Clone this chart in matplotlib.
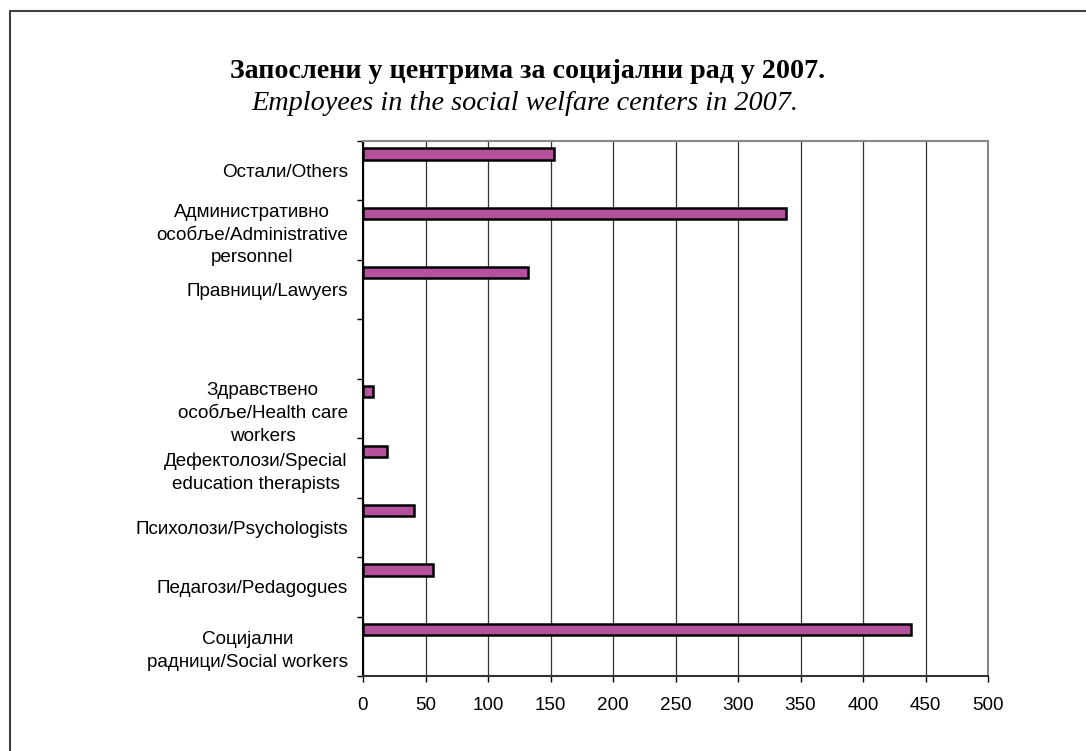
import matplotlib
matplotlib.use("Agg")
import matplotlib.pyplot as plt
from matplotlib.patches import Rectangle
import numpy as np

# категорије одоздо нагоре
categories = [
    "Социјални\nрадници/Social workers",
    "Педагози/Pedagogues",
    "Психолози/Psychologists",
    "Дефектолози/Special\neducation therapists",
    "Здравствено\nособље/Health care\nworkers",
    "",
    "Правници/Lawyers",
    "Административно\nособље/Administrative\npersonnel",
    "Остали/Others",
]
employees = [438, 56, 41, 19, 8, np.nan, 132, 338, 153]
x_ticks = [0, 50, 100, 150, 200, 250, 300, 350, 400, 450, 500]

title_sr = "Запослени у центрима за социјални рад у 2007."
title_en = "Employees in the social welfare centers in 2007."

W, H = 1086, 751
fig = plt.figure(figsize=(W / 100, H / 100), dpi=100)
fig.patch.set_facecolor("white")

# okvir oko celog grafikona (desna i donja ivica su van slike)
fig.patches.append(Rectangle((10 / W, -0.1), 1.2, 1 - 11 / H + 0.1,
                             transform=fig.transFigure, fill=False,
                             edgecolor="#404040", linewidth=1.5))

ax = fig.add_axes([363 / W, 1 - 676 / H, (988 - 363) / W, (676 - 141) / H])

y = np.arange(len(categories))
ax.barh(y + 0.282, employees, height=0.19, color="#B5519D",
        edgecolor="black", linewidth=1.8, zorder=3)

ax.set_xlim(0, 500)
ax.set_ylim(-0.5, len(categories) - 0.5)
ax.set_xticks(x_ticks)
ax.set_xticklabels([str(v) for v in x_ticks])
ax.grid(axis="x", color="#333333", linewidth=0.9, zorder=0)

ax.set_yticks(y)
ax.set_yticklabels(categories, multialignment="center", linespacing=1.45)
ax.set_yticks(np.arange(len(categories) + 1) - 0.5, minor=True)
ax.tick_params(axis="y", which="major", length=0, pad=11)
ax.tick_params(axis="y", which="minor", length=4, width=1, color="black")
ax.tick_params(axis="x", length=4, width=1, pad=11)

for lab in ax.get_yticklabels() + ax.get_xticklabels():
    lab.set_fontfamily("Liberation Sans")
    lab.set_fontsize(13.6)
    lab.set_color("black")

ax.spines["left"].set_color("black")
ax.spines["bottom"].set_color("#333333")
ax.spines["top"].set_color("#888888")
ax.spines["right"].set_color("#888888")
for s in ax.spines.values():
    s.set_linewidth(1.5)

fig.text(528 / W, 1 - 72 / H, title_sr, ha="center", va="center",
         fontfamily="Liberation Serif", fontweight="bold", fontsize=20.2)
fig.text(525 / W, 1 - 103 / H, title_en, ha="center", va="center",
         fontfamily="Liberation Serif", fontstyle="italic", fontsize=20.3)

fig.savefig("out.png", dpi=100)
